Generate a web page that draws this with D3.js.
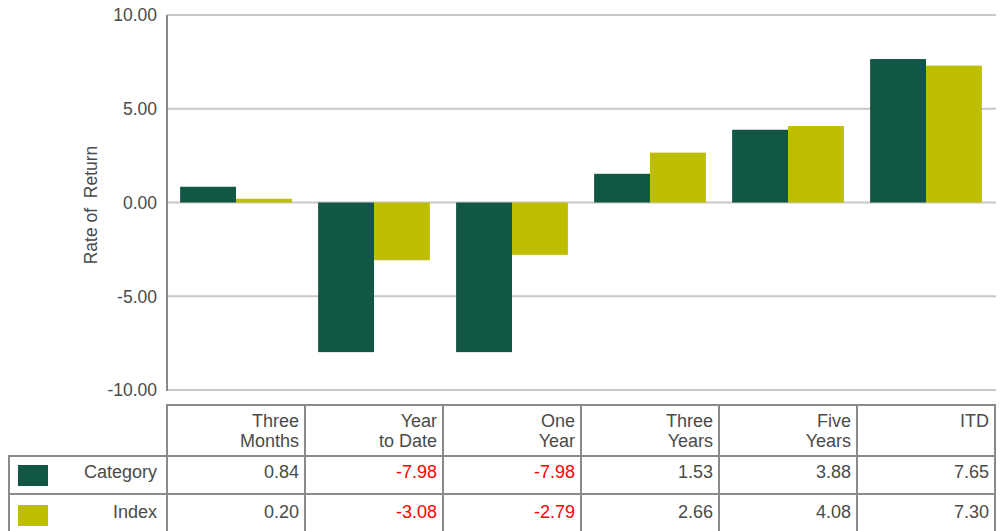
<!DOCTYPE html>
<html><head><meta charset="utf-8">
<script src="https://cdn.jsdelivr.net/npm/d3@7"></script>
<style>
html,body{margin:0;padding:0;background:#fff;}
svg{display:block;font-family:"Liberation Sans",Arial,sans-serif;}
</style></head>
<body>
<svg id="chart" width="1003" height="531"></svg>
<script>
const categories = ["Three Months","Year to Date","One Year","Three Years","Five Years","ITD"];
const headerLines = [["Three","Months"],["Year","to Date"],["One","Year"],["Three","Years"],["Five","Years"],["ITD"]];
const seriesNames = ["Category","Index"];
const categoryValues = [0.84,-7.98,-7.98,1.53,3.88,7.65];
const indexValues = [0.20,-3.08,-2.79,2.66,4.08,7.30];
const yTicks = [-10,-5,0,5,10];
const colors = ["#125646","#bdbe00"];

const series = [categoryValues, indexValues];
const svg = d3.select("#chart");
const textColor = "#4a4a4a";
const fs = 17.5;
const fmt = v => d3.format(".2f")(v).replace("\u2212","-");

const x0 = d3.scaleBand().domain(categories).range([167,995]).paddingInner(0.19).paddingOuter(0.095);
const x1 = d3.scaleBand().domain(seriesNames).range([0,x0.bandwidth()]);
const y = d3.scaleLinear().domain([-10,10]).range([390,15]);

// gridlines
svg.append("g").selectAll("line").data(yTicks).join("line")
  .attr("x1",167).attr("x2",996)
  .attr("y1",d=>y(d)).attr("y2",d=>y(d))
  .attr("stroke","#c8c8c8").attr("stroke-width",2);

// y tick labels
svg.append("g").selectAll("text").data(yTicks).join("text")
  .attr("x",157).attr("y",d=>y(d)).attr("dy","0.36em")
  .attr("text-anchor","end").attr("font-size",fs).attr("fill",textColor)
  .text(d=>fmt(d));

// y axis title
svg.append("text")
  .attr("transform","translate(97,205) rotate(-90)")
  .attr("text-anchor","middle").attr("font-size",17.5).attr("fill",textColor)
  .text("Rate of\u00A0 Return");

// bars
series.forEach((vals,si)=>{
  svg.append("g").selectAll("rect").data(vals).join("rect")
    .attr("x",(d,i)=>x0(categories[i])+x1(seriesNames[si]))
    .attr("width",x1.bandwidth())
    .attr("y",d=>y(Math.max(0,d)))
    .attr("height",d=>Math.abs(y(d)-y(0)))
    .attr("fill",colors[si]);
});

// axis line
svg.append("line").attr("x1",167).attr("x2",167).attr("y1",15).attr("y2",391)
  .attr("stroke","#888").attr("stroke-width",2);

// table
const step = x0.step();
const colEdges = d3.range(categories.length+1).map(i=>167+i*step);
const tTop = 405, r1 = 456, r2 = 494, tBot = 540;
const tbl = svg.append("g");
const border = "#8a8a8a";
tbl.append("line").attr("x1",166).attr("x2",colEdges[6]+1).attr("y1",tTop).attr("y2",tTop).attr("stroke",border).attr("stroke-width",2);
[r1,r2].forEach(yy=>tbl.append("line").attr("x1",8).attr("x2",colEdges[6]+1).attr("y1",yy).attr("y2",yy).attr("stroke",border).attr("stroke-width",2));
colEdges.forEach(xx=>tbl.append("line").attr("x1",xx).attr("x2",xx).attr("y1",tTop-1).attr("y2",tBot).attr("stroke",border).attr("stroke-width",2));
tbl.append("line").attr("x1",9).attr("x2",9).attr("y1",r1-1).attr("y2",tBot).attr("stroke",border).attr("stroke-width",2);

// header text
headerLines.forEach((lines,i)=>{
  lines.forEach((ln,j)=>{
    tbl.append("text").attr("x",colEdges[i+1]-6).attr("y",427+j*20)
      .attr("text-anchor","end").attr("font-size",18).attr("fill",textColor).text(ln);
  });
});
// rows
const rowBase = [478,518];
series.forEach((vals,si)=>{
  tbl.append("rect").attr("x",18).attr("y",rowBase[si]-13).attr("width",30).attr("height",21).attr("fill",colors[si]);
  tbl.append("text").attr("x",157).attr("y",rowBase[si]).attr("text-anchor","end")
    .attr("font-size",18).attr("fill",textColor).text(seriesNames[si]);
  vals.forEach((v,i)=>{
    tbl.append("text").attr("x",colEdges[i+1]-6).attr("y",rowBase[si]).attr("text-anchor","end")
      .attr("font-size",18).attr("fill",v<0?"#ff0000":textColor).text(fmt(v));
  });
});
</script>
</body></html>
